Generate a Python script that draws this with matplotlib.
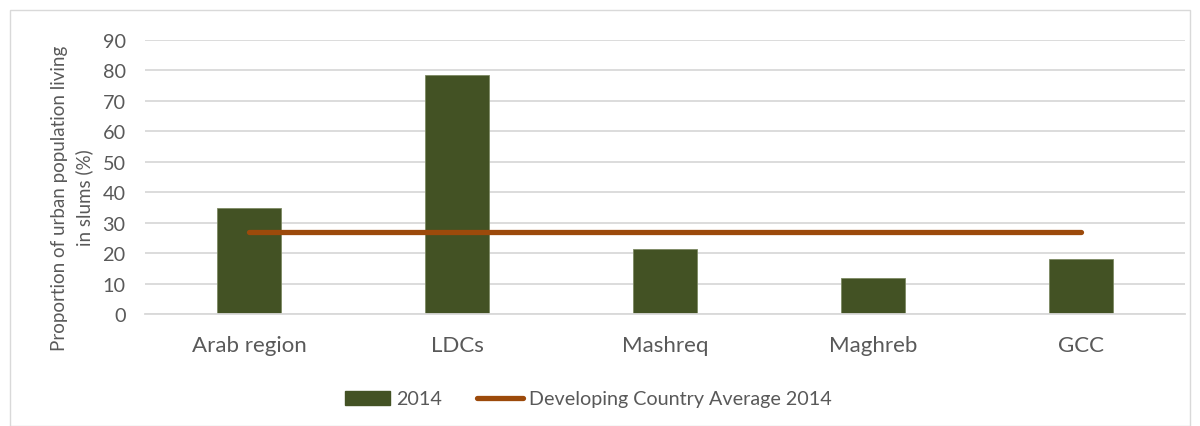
import matplotlib
matplotlib.use("Agg")
import matplotlib.pyplot as plt
from matplotlib.lines import Line2D
from matplotlib.patches import Patch, Rectangle

categories = ["Arab region", "LDCs", "Mashreq", "Maghreb", "GCC"]
values_2014 = [34.7, 78.5, 21.4, 11.7, 18.0]
dev_avg_2014 = [27.0, 27.0, 27.0, 27.0, 27.0]
yticks = [0, 10, 20, 30, 40, 50, 60, 70, 80, 90]

BAR = "#435224"
LINE = "#9C4A0B"
TXT = "#595959"
GRID = "#D9D9D9"

plt.rcParams['font.family'] = ['Lato', 'DejaVu Sans']

fig = plt.figure(figsize=(12, 4.27), dpi=100)
ax = fig.add_axes([145/1200, 1-315/427, (1185-145)/1200, (315-41)/427])

x = list(range(len(categories)))
ax.bar(x, values_2014, width=0.31, color=BAR, edgecolor="#7d8a63", linewidth=0.6, zorder=2)
ax.plot(x, dev_avg_2014, color=LINE, linewidth=3.8, solid_capstyle="round", zorder=3)

ax.set_xlim(-0.5, len(categories) - 0.5)
ax.set_ylim(0, 90)
ax.set_yticks(yticks)
ax.set_xticks(x)
ax.set_xticklabels(categories, fontsize=16)
ax.yaxis.grid(True, color=GRID, linewidth=1.3, zorder=0)
ax.set_axisbelow(True)
for s in ["top", "right", "left"]:
    ax.spines[s].set_visible(False)
ax.spines["bottom"].set_color(GRID)
ax.spines["bottom"].set_linewidth(1.3)
ax.tick_params(axis="both", length=0, colors=TXT)
ax.tick_params(axis="y", labelsize=14.3, pad=14)
ax.tick_params(axis="x", pad=15)

fig.text(72/1200, 1-198/427, "Proportion of urban population living\nin slums (%)",
         rotation=90, ha="center", va="center", fontsize=13.5, color=TXT, linespacing=1.45)

handles = [Patch(facecolor=BAR, edgecolor=BAR),
           Line2D([0], [0], color=LINE, linewidth=3.8, solid_capstyle="round")]
fig.legend(handles, ["2014", "Developing Country Average 2014"],
           loc="center", bbox_to_anchor=(588/1200, 1-400/427), ncol=2, frameon=False,
           fontsize=14.2, labelcolor=TXT, handlelength=2.3, handletextpad=0.3,
           columnspacing=1.8)

fig.patches.append(Rectangle((10/1200, 0.0), 1180/1200, 1-11/427, transform=fig.transFigure,
                             fill=False, edgecolor=GRID, linewidth=1.0))

fig.savefig("out.png", dpi=100, facecolor="white")
